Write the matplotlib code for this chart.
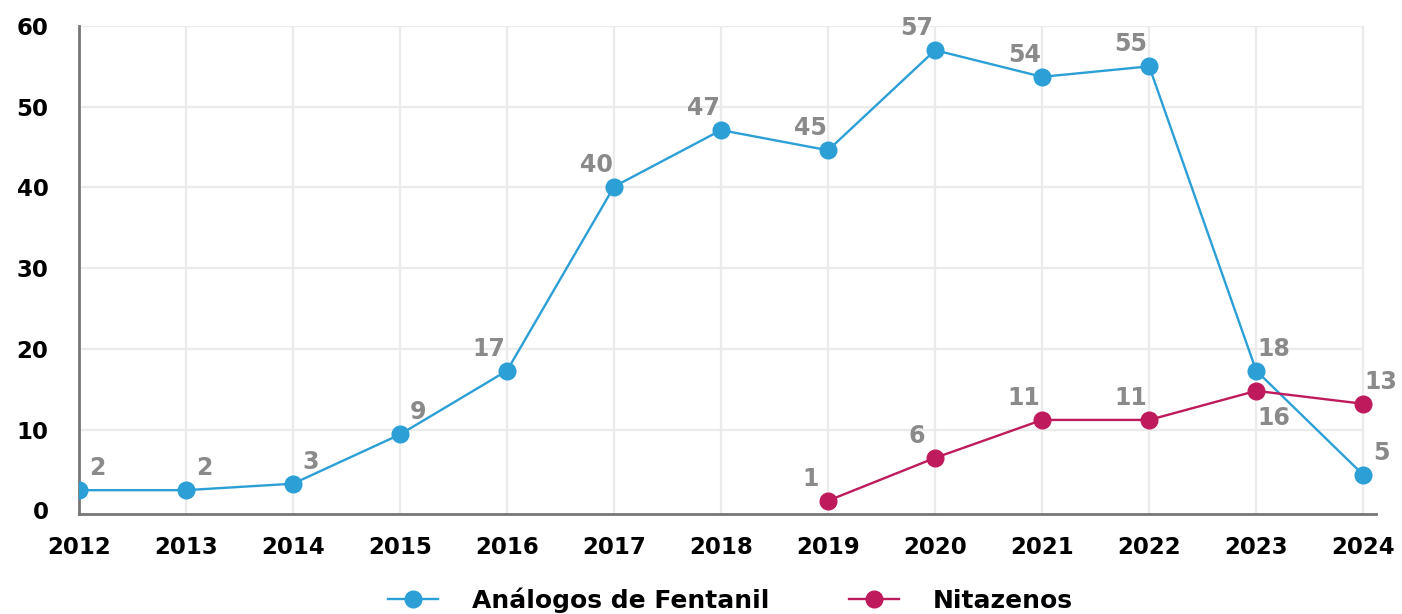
import numpy as np
import matplotlib
matplotlib.use('Agg')
import matplotlib.pyplot as plt
from matplotlib.lines import Line2D

# data
years = [2012, 2013, 2014, 2015, 2016, 2017, 2018, 2019, 2020, 2021, 2022, 2023, 2024]
fentanil = [2.5, 2.5, 3.3, 9.4, 17.3, 40.1, 47.1, 44.6, 57.0, 53.7, 55.0, 17.3, 4.4]
fentanil_labels = ['2', '2', '3', '9', '17', '40', '47', '45', '57', '54', '55', '18', '5']
nit_years = [2019, 2020, 2021, 2022, 2023, 2024]
nitazenos = [1.2, 6.5, 11.2, 11.2, 14.8, 13.2]
nit_labels = ['1', '6', '11', '11', '16', '13']
y_ticks = [0, 10, 20, 30, 40, 50, 60]

BLUE = '#2b9fd6'
MAGENTA = '#bf1a5c'
GRID = '#ebebeb'
SPINE = '#777777'
LABEL = '#8a8a8a'

# where each data label sits relative to its point (in pixels)
fent_pos = ['r', 'r', 'r', 'r', 'l', 'l', 'l', 'l', 'l', 'l', 'l', 'r', 'r']
nit_pos = ['l', 'l', 'l', 'l', 'rb', 'r']
OFFS = {'r': (18, 22), 'l': (-18, 22), 'rb': (18, -27)}


def add_labels(ax, xs, ys, labels, pos):
	for x, y, t, p in zip(xs, ys, labels, pos):
		dx, dy = OFFS[p]
		ax.annotate(t, (x, y), xytext=(dx, dy), textcoords='offset pixels',
					ha='center', va='center', color=LABEL, fontsize=17,
					fontweight='bold', zorder=5)


def main():
	fig = plt.figure(figsize=(14.02, 6.14), dpi=100)
	ax = fig.add_axes([0.0563, 0.1629, 0.9252, 0.7948])

	# grid drawn by hand so the horizontal lines stop at the last year
	for y in y_ticks[1:]:
		ax.plot([years[0], years[-1]], [y, y], color=GRID, lw=1.6, zorder=0)
	for x in years[1:]:
		ax.plot([x, x], [-0.5, y_ticks[-1]], color=GRID, lw=1.6, zorder=0)

	ax.plot(years, fentanil, color=BLUE, lw=1.7, marker='o', ms=12, zorder=3)
	ax.plot(nit_years, nitazenos, color=MAGENTA, lw=1.7, marker='o', ms=12, zorder=3)

	add_labels(ax, years, fentanil, fentanil_labels, fent_pos)
	add_labels(ax, nit_years, nitazenos, nit_labels, nit_pos)

	ax.set_xlim(2012, 2024.12)
	ax.set_ylim(-0.45, 60)
	ax.set_xticks(years)
	ax.set_yticks(y_ticks)
	ax.tick_params(length=0, labelsize=16.5)
	ax.tick_params(axis='y', pad=22)
	ax.tick_params(axis='x', pad=16)
	for lab in ax.get_xticklabels() + ax.get_yticklabels():
		lab.set_fontweight('bold')

	for s in ['top', 'right']:
		ax.spines[s].set_visible(False)
	for s in ['left', 'bottom']:
		ax.spines[s].set_color(SPINE)
		ax.spines[s].set_linewidth(2)
	ax.spines['left'].set_bounds(-0.45, 60)
	ax.set_clip_on(False)

	handles = [Line2D([], [], color=BLUE, lw=1.7, marker='o', ms=12),
			   Line2D([], [], color=MAGENTA, lw=1.7, marker='o', ms=12)]
	fig.legend(handles, ['Análogos de Fentanil', 'Nitazenos'], loc='center',
			   bbox_to_anchor=(0.521, 0.022), ncol=2, frameon=False,
			   handlelength=2.0, handletextpad=1.35, columnspacing=3.2,
			   prop={'size': 18, 'weight': 'semibold'})

	fig.savefig('out.png', dpi=100)


if __name__ == '__main__':
	main()
